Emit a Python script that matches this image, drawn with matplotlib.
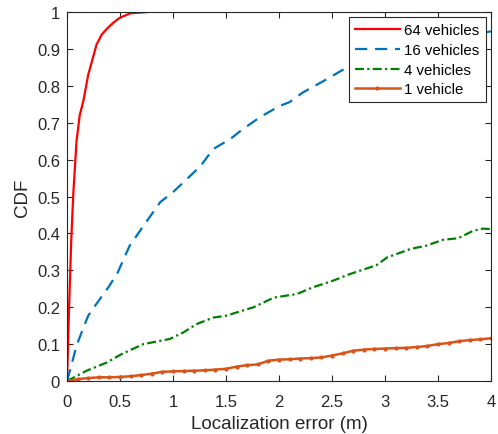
import numpy as np
import matplotlib
matplotlib.use("Agg")
import matplotlib.pyplot as plt

plt.rcParams['font.family'] = ['Liberation Sans', 'DejaVu Sans']

# CDF of localization error for different fleet sizes
x64 = [0, 0.02, 0.04, 0.06, 0.09, 0.12, 0.155, 0.2, 0.28, 0.33, 0.38, 0.44, 0.5, 0.6, 0.75]
y64 = [0, 0.2, 0.38, 0.51, 0.65, 0.72, 0.76, 0.83, 0.913, 0.94, 0.956, 0.972, 0.985, 0.997, 1.0]

x16 = [0, 0.03, 0.09, 0.14, 0.2, 0.28, 0.4, 0.48, 0.59, 0.72, 0.88, 1.0, 1.13, 1.26,
       1.38, 1.54, 1.66, 1.82, 2.0, 2.1, 2.23, 2.45, 2.64, 3.0, 3.5, 4.0]
y16 = [0, 0.03, 0.096, 0.133, 0.177, 0.21, 0.258, 0.295, 0.366, 0.42, 0.485, 0.512, 0.547, 0.583,
       0.629, 0.656, 0.683, 0.715, 0.745, 0.756, 0.783, 0.818, 0.85, 0.88, 0.92, 0.948]

x4 = [0, 0.186, 0.374, 0.516, 0.72, 0.97, 1.1, 1.22, 1.38, 1.5, 1.76, 1.95, 2.17, 2.32,
      2.51, 2.67, 2.92, 3.02, 3.24, 3.39, 3.55, 3.69, 3.83, 3.92, 4.0]
y4 = [0, 0.028, 0.05, 0.073, 0.1, 0.114, 0.132, 0.154, 0.172, 0.177, 0.2, 0.226, 0.236, 0.254,
      0.272, 0.29, 0.314, 0.335, 0.358, 0.367, 0.383, 0.387, 0.407, 0.413, 0.412]

x1 = [i / 10 for i in range(41)]
y1 = [0, 0.005, 0.008, 0.01, 0.01, 0.011, 0.013, 0.016, 0.02, 0.025, 0.026,
      0.027, 0.028, 0.029, 0.031, 0.033, 0.039, 0.043, 0.045, 0.055, 0.058,
      0.059, 0.061, 0.062, 0.064, 0.069, 0.075, 0.082, 0.085, 0.087, 0.088,
      0.089, 0.09, 0.092, 0.095, 0.1, 0.103, 0.108, 0.111, 0.113, 0.116]

fig = plt.figure(figsize=(4.98, 4.35), dpi=100)
ax = fig.add_axes([0.1345, 0.1218, 0.8514, 0.848])

ax.plot(x64, y64, color='#FF0000', lw=1.6, label='64 vehicles')
ax.plot(x16, y16, color='#0072BD', lw=1.6, dashes=(5.5, 3.5), label='16 vehicles')
ax.plot(x4, y4, color='#008000', lw=1.6, dashes=(4, 1.5, 1, 1.5), label='4 vehicles')
ax.plot(x1, y1, color='#D95319', lw=1.8, marker='.', markersize=4, label='1 vehicle')

ax.set_xlim(0, 4)
ax.set_ylim(0, 1)
ax.set_xticks(np.arange(0, 4.01, 0.5))
ax.set_xticklabels(['0', '0.5', '1', '1.5', '2', '2.5', '3', '3.5', '4'])
ax.set_yticks(np.arange(0, 1.01, 0.1))
ax.set_yticklabels(['0', '0.1', '0.2', '0.3', '0.4', '0.5', '0.6', '0.7', '0.8', '0.9', '1'])

ax.tick_params(direction='in', top=True, right=True, length=4, width=0.8,
               color='#262626', labelcolor='#262626', labelsize=12)
ax.tick_params(axis='x', pad=9)
ax.tick_params(axis='y', pad=5)
for s in ax.spines.values():
    s.set_color('#262626')
    s.set_linewidth(0.8)

ax.set_xlabel('Localization error (m)', fontsize=13.5, color='#262626', labelpad=5)
ax.set_ylabel('CDF', fontsize=13.5, color='#262626', labelpad=4)

leg = ax.legend(loc='upper right', fontsize=10.8, frameon=True, fancybox=False,
                edgecolor='#262626', framealpha=1, handlelength=3.0,
                handletextpad=0.3, labelspacing=0.38, borderpad=0.4,
                borderaxespad=0.35)
leg.get_frame().set_linewidth(0.8)

fig.savefig('out.png', dpi=100)
